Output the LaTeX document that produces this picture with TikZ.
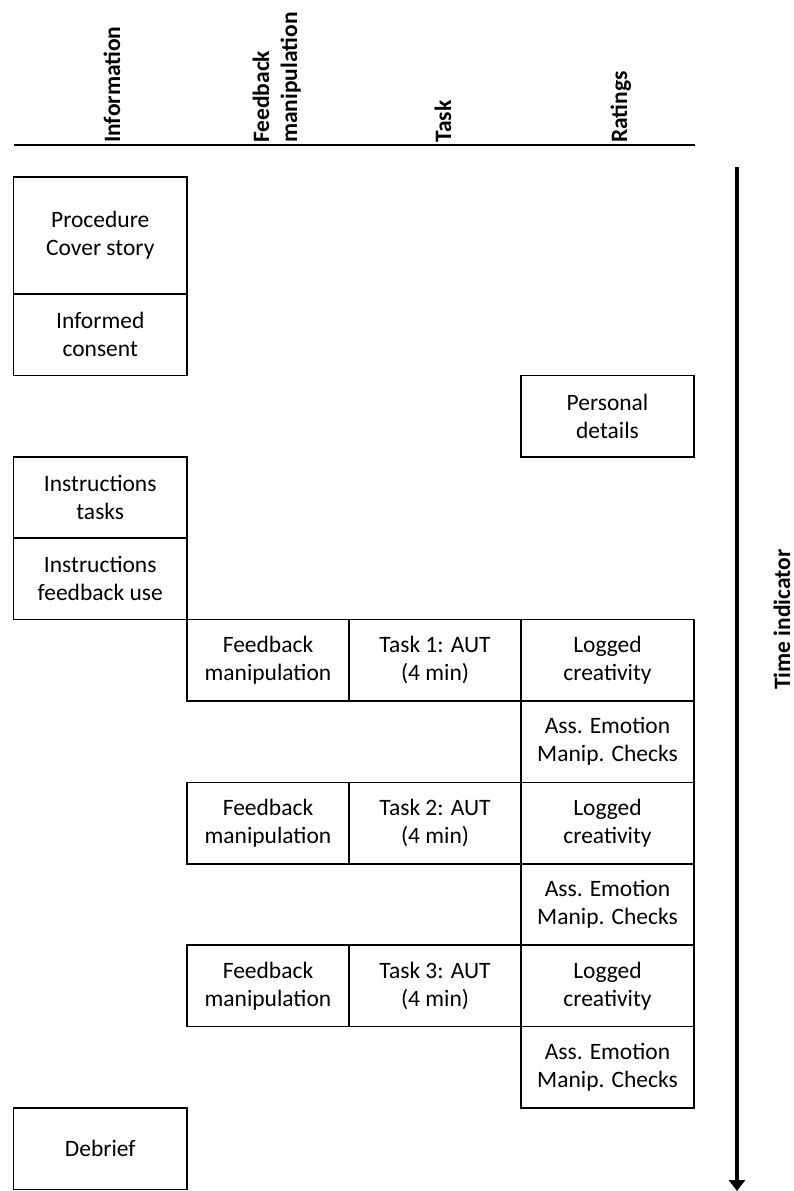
\documentclass[tikz,border=0pt]{standalone}
\usepackage{fontspec}
\setmainfont{Carlito}
\usetikzlibrary{arrows.meta}
\begin{document}
\begin{tikzpicture}[x=1pt,y=1pt,
  every node/.style={font=\fontsize{23.5}{28}\selectfont},
  cell/.style={draw=black, line width=1.6pt, minimum height=81.4pt, inner sep=0pt, align=center},
  colA/.style={cell, minimum width=173.5pt},
  colB/.style={cell, minimum width=162pt},
  colC/.style={cell, minimum width=172pt},
  colD/.style={cell, minimum width=173pt},
  head/.style={rotate=90, inner sep=0pt, align=left, font=\fontsize{23.5}{28}\selectfont\bfseries},
  timeline/.style={line width=3.5pt, -{Triangle[width=16pt,length=11pt]}}
]
\useasboundingbox (0,0) rectangle (794,-1191);

% column headings
\node[head, anchor=base west] (hinfo) at (120,-143) {Information};
\node[head, anchor=south west] (hfb) at (301,-143) {Feedback\\manipulation};
\node[head, anchor=base west] (htask) at (451,-143) {Task};
\node[head, anchor=base west] (hrate) at (627,-143) {Ratings};
\coordinate (hl) at (14,-144.7);
\coordinate (hr) at (695,-144.7);
\draw[line width=2.2pt] (hl) -- (hr);

% information column
\node[colA, minimum height=117pt] (proc) at (100.25,-235.5) {Procedure\\Cover story};
\node[colA] (consent) at (100.25,-334.7) {Informed\\consent};
\node[colD] (personal) at (607.5,-416.1) {Personal\\details};
\node[colA] (instrT) at (100.25,-497.5) {Instructions\\tasks};
\node[colA] (instrF) at (100.25,-578.9) {Instructions\\feedback use};

% three task blocks
\node[colB] (fb1) at (268,-660.3) {Feedback\\manipulation};
\node[colC] (t1) at (435,-660.3) {Task 1: AUT\\(4 min)};
\node[colD] (lc1) at (607.5,-660.3) {Logged\\creativity};
\node[colD] (ae1) at (607.5,-741.7) {Ass. Emotion\\Manip. Checks};

\node[colB] (fb2) at (268,-823.1) {Feedback\\manipulation};
\node[colC] (t2) at (435,-823.1) {Task 2: AUT\\(4 min)};
\node[colD] (lc2) at (607.5,-823.1) {Logged\\creativity};
\node[colD] (ae2) at (607.5,-904.5) {Ass. Emotion\\Manip. Checks};

\node[colB] (fb3) at (268,-985.9) {Feedback\\manipulation};
\node[colC] (t3) at (435,-985.9) {Task 3: AUT\\(4 min)};
\node[colD] (lc3) at (607.5,-985.9) {Logged\\creativity};
\node[colD] (ae3) at (607.5,-1067.3) {Ass. Emotion\\Manip. Checks};

\node[colA] (debrief) at (100.25,-1148.7) {Debrief};

% time axis
\coordinate (tstart) at (737,-167);
\coordinate (tend) at (737,-1191);
\draw[timeline] (tstart) -- (tend);
\node[head, anchor=base west] (tlabel) at (790,-690) {Time indicator};
\end{tikzpicture}
\end{document}
